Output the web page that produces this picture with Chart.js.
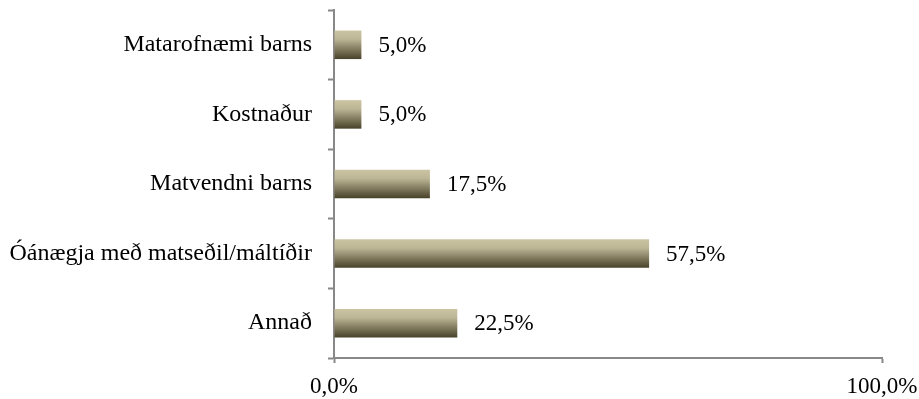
<!DOCTYPE html>
<html lang="is">
<head>
    <meta charset="UTF-8">
    <title>Ástæður</title>
    <script src="https://cdn.jsdelivr.net/npm/chart.js"></script>
    <style>
        html, body { margin: 0; padding: 0; background: #fff; }
        #wrap { width: 919px; height: 399px; }
    </style>
</head>
<body>
    <div id="wrap"><canvas id="myChart" width="919" height="399"></canvas></div>
    <script>
        // Categories and percentages
        const categories = ['Matarofnæmi barns', 'Kostnaður', 'Matvendni barns', 'Óánægja með matseðil/máltíðir', 'Annað'];
        const percentages = [5.0, 5.0, 17.5, 57.5, 22.5];
        const axisTicks = [0, 100];

        const fmt = v => v.toFixed(1).replace('.', ',') + '%';
        const serif = "'Liberation Serif', 'Times New Roman', serif";
        const fontSize = 23;

        // Vertical gradient for each bar, light on top and dark at the bottom
        function barFill(context) {
            const chart = context.chart;
            const y = chart.scales.y;
            if (!chart.chartArea || !y) return '#a09a7c';
            const center = y.getPixelForValue(context.dataIndex);
            const half = (y.bottom - y.top) / categories.length * 0.41 / 2;
            const g = chart.ctx.createLinearGradient(0, center - half, 0, center + half);
            g.addColorStop(0, '#cbc4a2');
            g.addColorStop(0.3, '#bdb696');
            g.addColorStop(1, '#474129');
            return g;
        }

        // Percentage text to the right of each bar
        const valueLabels = {
            id: 'valueLabels',
            afterDatasetsDraw(chart) {
                const ctx = chart.ctx;
                ctx.save();
                ctx.font = fontSize + 'px ' + serif;
                ctx.fillStyle = '#000';
                ctx.textBaseline = 'middle';
                chart.getDatasetMeta(0).data.forEach((bar, i) => {
                    ctx.fillText(fmt(percentages[i]), bar.x + 17, bar.y + 1);
                });
                ctx.restore();
            }
        };

        new Chart(document.getElementById('myChart'), {
            type: 'bar',
            data: {
                labels: categories,
                datasets: [{
                    data: percentages,
                    backgroundColor: barFill,
                    borderWidth: 0,
                    categoryPercentage: 1,
                    barPercentage: 0.41
                }]
            },
            options: {
                indexAxis: 'y',
                responsive: false,
                animation: false,
                layout: { padding: { top: 10, right: 37, left: 0, bottom: 0 } },
                plugins: { legend: { display: false }, tooltip: { enabled: false } },
                scales: {
                    x: {
                        min: 0,
                        max: 100,
                        afterBuildTicks: scale => { scale.ticks = axisTicks.map(v => ({ value: v })); },
                        afterFit: scale => {
                            scale.height = 41;
                            scale.paddingLeft = 0;
                            scale.paddingRight = 0;
                        },
                        ticks: {
                            callback: v => fmt(v),
                            color: '#000',
                            font: { family: serif, size: fontSize },
                            maxRotation: 0,
                            padding: 10
                        },
                        grid: { drawOnChartArea: false, tickLength: 5, color: '#888', tickWidth: 2 },
                        border: { color: '#888', width: 2 }
                    },
                    y: {
                        afterFit: scale => {
                            scale.width = 334;
                            scale.paddingTop = 0;
                            scale.paddingBottom = 0;
                        },
                        ticks: {
                            color: '#000',
                            font: { family: serif, size: 24 },
                            padding: 16
                        },
                        grid: { drawOnChartArea: false, tickLength: 6, color: '#888', tickWidth: 2 },
                        border: { color: '#888', width: 2 }
                    }
                }
            },
            plugins: [valueLabels]
        });
    </script>
</body>
</html>
